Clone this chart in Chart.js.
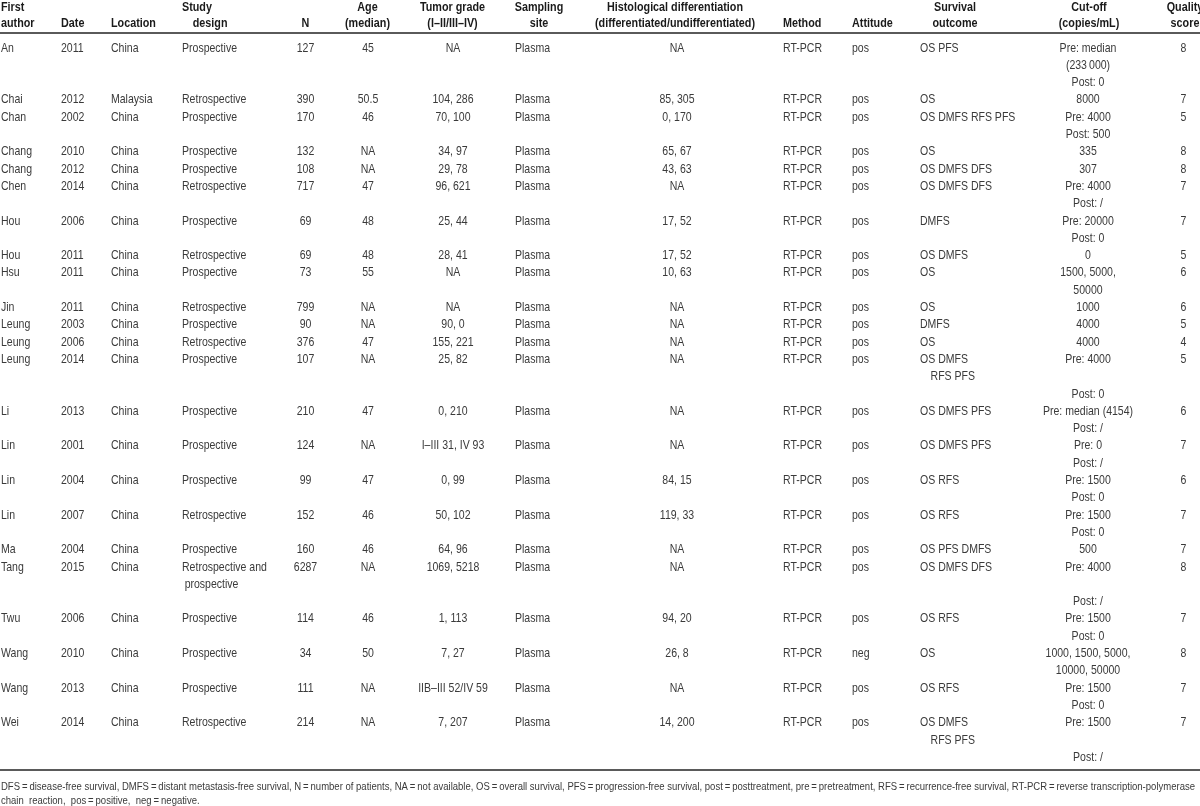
<!DOCTYPE html>
<html><head><meta charset="utf-8">
<script src="https://cdn.jsdelivr.net/npm/chart.js@4.4.0/dist/chart.umd.min.js"></script>
<style>html,body{margin:0;padding:0;background:#fff;overflow:hidden}canvas{display:block}</style>
</head><body>
<canvas id="c" width="1200" height="806"></canvas>
<script>
// ---------- DATA ----------
const authors = ["An","Chai","Chan","Chang","Chang","Chen","Hou","Hou","Hsu","Jin","Leung","Leung","Leung","Li","Lin","Lin","Lin","Ma","Tang","Twu","Wang","Wang","Wei"];
const years = ["2011","2012","2002","2010","2012","2014","2006","2011","2011","2011","2003","2006","2014","2013","2001","2004","2007","2004","2015","2006","2010","2013","2014"];
const locations = ["China","Malaysia","China","China","China","China","China","China","China","China","China","China","China","China","China","China","China","China","China","China","China","China","China"];
const designs = ["Prospective","Retrospective","Prospective","Prospective","Prospective","Retrospective","Prospective","Retrospective","Prospective","Retrospective","Prospective","Retrospective","Prospective","Prospective","Prospective","Prospective","Retrospective","Prospective","Retrospective and\n\u2005prospective","Prospective","Prospective","Prospective","Retrospective"];
const patients = ["127","390","170","132","108","717","69","69","73","799","90","376","107","210","124","99","152","160","6287","114","34","111","214"];
const ages = ["45","50.5","46","NA","NA","47","48","48","55","NA","NA","47","NA","47","NA","47","46","46","NA","46","50","NA","NA"];
const tumorGrades = ["NA","104, 286","70, 100","34, 97","29, 78","96, 621","25, 44","28, 41","NA","NA","90, 0","155, 221","25, 82","0, 210","I\u2013III 31, IV 93","0, 99","50, 102","64, 96","1069, 5218","1, 113","7, 27","IIB\u2013III 52/IV 59","7, 207"];
const sites = ["Plasma","Plasma","Plasma","Plasma","Plasma","Plasma","Plasma","Plasma","Plasma","Plasma","Plasma","Plasma","Plasma","Plasma","Plasma","Plasma","Plasma","Plasma","Plasma","Plasma","Plasma","Plasma","Plasma"];
const histology = ["NA","85, 305","0, 170","65, 67","43, 63","NA","17, 52","17, 52","10, 63","NA","NA","NA","NA","NA","NA","84, 15","119, 33","NA","NA","94, 20","26, 8","NA","14, 200"];
const methods = ["RT-PCR","RT-PCR","RT-PCR","RT-PCR","RT-PCR","RT-PCR","RT-PCR","RT-PCR","RT-PCR","RT-PCR","RT-PCR","RT-PCR","RT-PCR","RT-PCR","RT-PCR","RT-PCR","RT-PCR","RT-PCR","RT-PCR","RT-PCR","RT-PCR","RT-PCR","RT-PCR"];
const attitudes = ["pos","pos","pos","pos","pos","pos","pos","pos","pos","pos","pos","pos","pos","pos","pos","pos","pos","pos","pos","pos","neg","pos","pos"];
const outcomes = ["OS PFS","OS","OS DMFS RFS PFS","OS","OS DMFS DFS","OS DMFS DFS","DMFS","OS DMFS","OS","OS","DMFS","OS","OS DMFS\n\u2003RFS PFS","OS DMFS PFS","OS DMFS PFS","OS RFS","OS RFS","OS PFS DMFS","OS DMFS DFS","OS RFS","OS","OS RFS","OS DMFS\n\u2003RFS PFS"];
const cutoffs = ["Pre: median\n(233\u2009000)\nPost: 0","8000","Pre: 4000\nPost: 500","335","307","Pre: 4000\nPost: /","Pre: 20000\nPost: 0","0","1500, 5000,\n50000","1000","4000","4000","Pre: 4000\n\nPost: 0","Pre: median (4154)\nPost: /","Pre: 0\nPost: /","Pre: 1500\nPost: 0","Pre: 1500\nPost: 0","500","Pre: 4000\n\nPost: /","Pre: 1500\nPost: 0","1000, 1500, 5000,\n10000, 50000","Pre: 1500\nPost: 0","Pre: 1500\n\nPost: /"];
const quality = ["8","7","5","8","8","7","7","5","6","6","5","4","5","6","7","6","7","7","8","7","8","7","7"];

const headers = ["First\nauthor","Date","Location","Study\n\u2003design","N","Age\n(median)","Tumor grade\n(I\u2013II/III\u2013IV)","Sampling\nsite","Histological differentiation\n(differentiated/undifferentiated)","Method","Attitude","Survival\noutcome","Cut-off\n(copies/mL)","Quality\nscore"];
const footnote = [
  "DFS\u2009=\u2009disease-free survival, DMFS\u2009=\u2009distant metastasis-free survival, N\u2009=\u2009number of patients, NA\u2009=\u2009not available, OS\u2009=\u2009overall survival, PFS\u2009=\u2009progression-free survival, post\u2009=\u2009posttreatment, pre\u2009=\u2009pretreatment, RFS\u2009=\u2009recurrence-free survival, RT-PCR\u2009=\u2009reverse transcription-polymerase",
  "chain  reaction,  pos\u2009=\u2009positive,  neg\u2009=\u2009negative."
];

// ---------- LAYOUT ----------
const FONT = '"Liberation Sans", Arial, sans-serif';
const columnValues = [authors, years, locations, designs, patients, ages, tumorGrades, sites, histology, methods, attitudes, outcomes, cutoffs, quality];
const columnLayout = [
  {x: 1, align: 'left', hx: 1, halign: 'left'},
  {x: 61, align: 'left', hx: 61, halign: 'left'},
  {x: 111, align: 'left', hx: 111, halign: 'left'},
  {x: 182, align: 'left', hx: 182, halign: 'left'},
  {x: 305.5, align: 'center', hx: 305.5, halign: 'center'},
  {x: 368, align: 'center', hx: 367.5, halign: 'center'},
  {x: 453, align: 'center', hx: 452.5, halign: 'center'},
  {x: 515, align: 'left', hx: 539, halign: 'center'},
  {x: 677, align: 'center', hx: 675, halign: 'center'},
  {x: 783, align: 'left', hx: 783, halign: 'left'},
  {x: 852, align: 'left', hx: 852, halign: 'left'},
  {x: 920, align: 'left', hx: 955, halign: 'center'},
  {x: 1088, align: 'center', hx: 1089, halign: 'center'},
  {x: 1183.5, align: 'center', hx: 1185, halign: 'center'}
];
const LINE_PX = 17.3, FIRST_PX = 47.3, H = 806;
const yMin = -FIRST_PX / LINE_PX, yMax = yMin + H / LINE_PX;

const rowLines = authors.map((_, r) => Math.max(...columnValues.map(col => String(col[r]).split('\n').length)));
const rowStart = [];
rowLines.reduce((acc, n, r) => { rowStart[r] = acc; return acc + n; }, 0);
const totalLines = rowLines.reduce((a, b) => a + b, 0);

const datasets = columnValues.map((vals, c) => ({
  label: headers[c],
  data: vals.map((v, r) => ({x: columnLayout[c].x, y: rowStart[r], text: String(v)})),
  pointRadius: 0, pointHoverRadius: 0, showLine: false
}));

// draw text condensed horizontally by factor sx
function drawNarrow(ctx, text, x, y, align, sx) {
  const w = ctx.measureText(text).width * sx;
  let left = x;
  if (align === 'center') left = x - w / 2;
  else if (align === 'right') left = x - w;
  ctx.save();
  ctx.translate(left, y);
  ctx.scale(sx, 1);
  ctx.textAlign = 'left';
  ctx.fillText(text, 0, 0);
  ctx.restore();
}

const tablePlugin = {
  id: 'tableText',
  afterDatasetsDraw(chart) {
    const ctx = chart.ctx, xs = chart.scales.x, ys = chart.scales.y;
    ctx.save();
    ctx.textBaseline = 'middle';
    // body cells
    ctx.fillStyle = '#3a3a3a';
    ctx.font = '13.5px ' + FONT;
    const sxBody = 55 / ctx.measureText('Prospective').width;
    chart.data.datasets.forEach((ds, c) => {
      const meta = chart.getDatasetMeta(c);
      meta.data.forEach((el, r) => {
        ds.data[r].text.split('\n').forEach((ln, k) => {
          drawNarrow(ctx, ln, el.x, ys.getPixelForValue(ds.data[r].y + k) + 0.5, columnLayout[c].align, sxBody);
        });
      });
    });
    // header
    ctx.fillStyle = '#1a1a1a';
    ctx.font = 'bold 13.5px ' + FONT;
    const sxHead = 136 / ctx.measureText('Histological differentiation').width;
    const hy = [-2.35, -1.42];
    headers.forEach((h, c) => {
      const lines = h.split('\n');
      const start = lines.length === 1 ? 1 : 0;
      lines.forEach((ln, k) => drawNarrow(ctx, ln, xs.getPixelForValue(columnLayout[c].hx), ys.getPixelForValue(hy[start + k]) + 0.5, columnLayout[c].halign, sxHead));
    });
    // rules
    ctx.strokeStyle = '#5a5a5a';
    ctx.lineWidth = 2;
    const x0 = xs.getPixelForValue(0), x1 = xs.getPixelForValue(1200);
    [-0.83, totalLines - 0.2].forEach(v => {
      const y = Math.round(ys.getPixelForValue(v));
      ctx.beginPath(); ctx.moveTo(x0, y); ctx.lineTo(x1, y); ctx.stroke();
    });
    // footnote
    ctx.fillStyle = '#3a3a3a';
    ctx.font = '10.5px ' + FONT;
    const sxFoot = 1194 / ctx.measureText(footnote[0]).width;
    [totalLines + 0.74, totalLines + 1.55].forEach((v, i) => drawNarrow(ctx, footnote[i], x0 + 1, ys.getPixelForValue(v), 'left', sxFoot));
    ctx.restore();
  }
};

new Chart(document.getElementById('c'), {
  type: 'scatter',
  data: {datasets},
  options: {
    responsive: false, animation: false, devicePixelRatio: 1,
    layout: {padding: 0},
    plugins: {legend: {display: false}, tooltip: {enabled: false}},
    events: [],
    scales: {
      x: {type: 'linear', min: 0, max: 1200, display: false},
      y: {type: 'linear', min: yMin, max: yMax, reverse: true, display: false}
    }
  },
  plugins: [tablePlugin]
});
</script>
</body></html>
